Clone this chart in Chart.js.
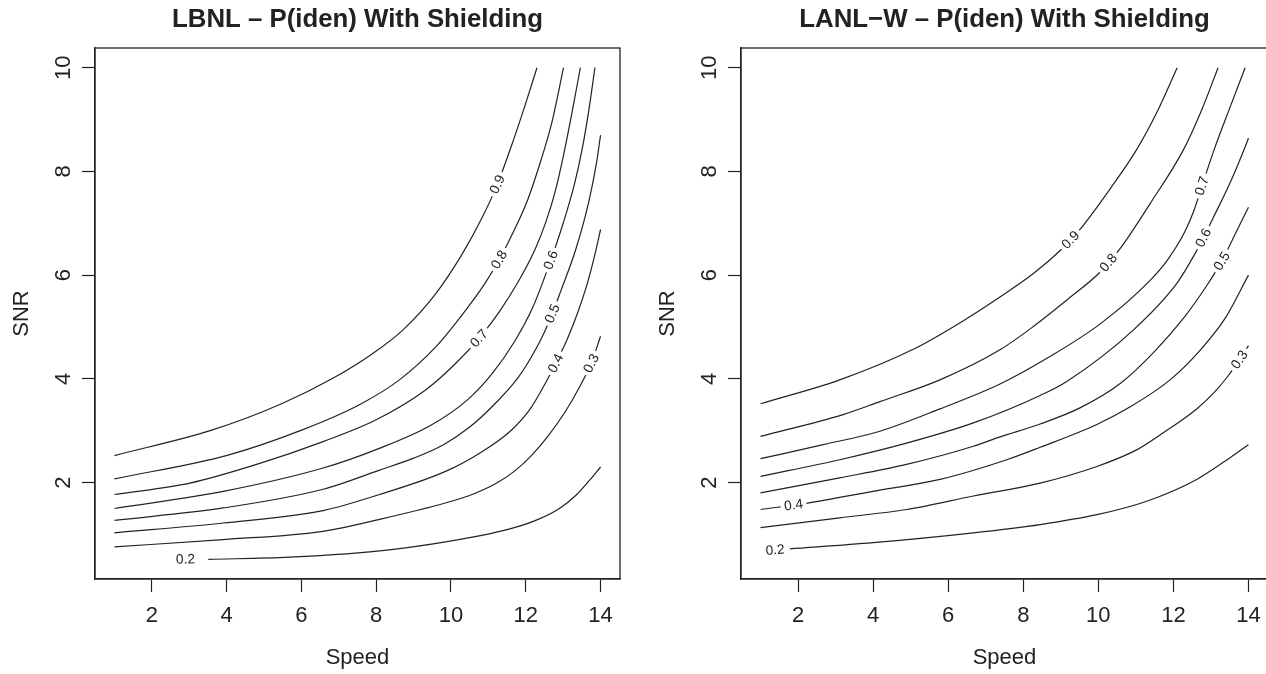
<!DOCTYPE html>
<html><head><meta charset="utf-8">
<script src="https://cdn.jsdelivr.net/npm/chart.js@4.4.1/dist/chart.umd.min.js"></script>
<style>
html,body{margin:0;padding:0;background:#fff;overflow:hidden;}
#wrap{position:relative;width:1266px;height:674px;overflow:hidden;background:#fff;}
.box{position:absolute;top:0;height:674px;}
</style></head><body>
<div id="wrap">
  <div class="box" style="left:0;width:633px"><canvas id="c1" width="633" height="674"></canvas></div>
  <div class="box" style="left:646px;width:626px"><canvas id="c2" width="626" height="674"></canvas></div>
</div>
<script>
// ---------- data ----------
const LEVELS = ['0.2','0.3','0.4','0.5','0.6','0.7','0.8','0.9'];
const SPEED_TICKS = [2,4,6,8,10,12,14];
const SNR_TICKS = [2,4,6,8,10];
const SPEED_RANGE = [0.48, 14.52];
const SNR_RANGE = [0.14, 10.38];

// LBNL contours: [speed, SNR]
const LBNL_20 = [[3.51,0.52],[5.69,0.56],[8.35,0.70],[10.75,0.97],[11.6,1.11],[12.3,1.28],[12.9,1.5],[13.35,1.76],[13.7,2.04],[14,2.3]];
const LBNL_30 = [[1,0.76],[3.91,0.9],[6.58,1.06],[8.09,1.29],[9.87,1.61],[10.6,1.78],[11.2,1.98],[11.7,2.22],[12.15,2.52],[12.6,2.9],[13.05,3.36],[13.42,3.82],[13.75,4.3],[14,4.82]];
const LBNL_40 = [[1,1.03],[3.91,1.22],[6.58,1.46],[8.09,1.77],[9.87,2.22],[10.84,2.6],[11.6,3.0],[12.1,3.4],[12.55,3.95],[12.8,4.3],[13.1,4.75],[13.4,5.3],[13.65,5.85],[13.85,6.4],[14,6.88]];
const LBNL_50 = [[1,1.27],[3.91,1.51],[6.58,1.87],[8.09,2.24],[9.0,2.47],[9.8,2.73],[10.5,3.07],[11.15,3.5],[11.78,4.01],[12.05,4.3],[12.44,4.81],[12.71,5.26],[12.95,5.72],[13.33,6.48],[13.68,7.4],[13.9,8.2],[14,8.7]];
const LBNL_60 = [[1,1.5],[3.91,1.83],[6.58,2.28],[8.05,2.65],[9.45,3.1],[10.45,3.6],[11.1,4.1],[11.7,4.72],[12.2,5.4],[12.67,6.29],[13.0,7.0],[13.3,7.75],[13.5,8.4],[13.68,9.15],[13.85,10]];
const LBNL_70 = [[1,1.77],[3.02,1.99],[4.8,2.35],[6.58,2.79],[8.0,3.21],[9.33,3.79],[10.13,4.3],[10.75,4.78],[11.3,5.3],[11.82,5.9],[12.25,6.5],[12.55,7.05],[12.8,7.65],[13.02,8.35],[13.24,9.15],[13.46,10]];
const LBNL_80 = [[1,2.07],[4.04,2.53],[6.04,3.02],[7.55,3.5],[8.62,3.98],[9.6,4.62],[10.4,5.33],[10.9,5.83],[11.29,6.3],[11.7,6.88],[12.05,7.45],[12.4,8.2],[12.7,8.95],[13.01,10]];
const LBNL_90 = [[1,2.52],[3.6,3.01],[5.47,3.52],[6.84,4.01],[7.91,4.49],[8.71,4.94],[9.6,5.65],[10.31,6.42],[10.84,7.12],[11.24,7.75],[11.62,8.5],[11.97,9.25],[12.3,10]];
const LBNL_LABEL_AT = [[2.9,0.52],[13.75,4.3],[12.8,4.3],[12.71,5.26],[12.67,6.29],[10.75,4.78],[11.29,6.3],[11.24,7.75]];

// LANL-W contours: [speed, SNR]
const LANL_20 = [[1.78,0.72],[4.0,0.84],[6.67,1.03],[8.45,1.19],[9.96,1.38],[11.29,1.64],[12.62,2.06],[13.51,2.48],[14,2.73]];
const LANL_30 = [[1,1.13],[3.11,1.32],[4.89,1.48],[6.67,1.74],[8.45,1.99],[9.96,2.31],[11.02,2.63],[11.73,2.96],[12.62,3.42],[13.1,3.75],[13.45,4.05],[13.76,4.37],[14,4.64]];
const LANL_40 = [[1,1.48],[2.22,1.6],[4.0,1.83],[5.78,2.06],[7.56,2.44],[8.45,2.68],[9.96,3.12],[10.85,3.46],[11.91,3.98],[12.71,4.55],[13.38,5.17],[14,6.0]];
const LANL_50 = [[1,1.8],[3.11,2.09],[4.89,2.35],[6.67,2.7],[7.38,2.88],[8.45,3.13],[9.51,3.44],[10.6,3.92],[11.5,4.53],[12.27,5.17],[12.89,5.8],[13.29,6.27],[13.65,6.8],[14,7.31]];
const LANL_60 = [[1,2.12],[3.11,2.44],[4.89,2.76],[6.67,3.15],[8.45,3.68],[9.16,3.95],[10.93,4.94],[12.09,5.84],[12.58,6.42],[12.8,6.72],[13.07,7.12],[13.51,7.78],[13.87,8.4],[14,8.64]];
const LANL_70 = [[1,2.46],[2.67,2.73],[4.18,2.99],[5.78,3.42],[7.38,3.9],[8.71,4.43],[10.05,5.06],[11.38,5.9],[11.85,6.3],[12.3,6.83],[12.55,7.25],[12.76,7.72],[13.1,8.45],[13.5,9.22],[13.91,10]];
const LANL_80 = [[1,2.89],[3.2,3.31],[4.18,3.56],[5.78,3.98],[7.38,4.56],[8.27,5.01],[9.16,5.52],[10.05,6.06],[10.6,6.53],[11.38,7.38],[12.27,8.42],[12.75,9.18],[13.19,10]];
const LANL_90 = [[1,3.52],[3.11,3.98],[5.07,4.57],[6.22,5.04],[7.38,5.58],[8.27,6.03],[9.02,6.5],[9.26,6.68],[9.51,6.88],[10.31,7.66],[11.02,8.42],[11.6,9.2],[12.1,10]];
const LANL_LABEL_AT = [[1.39,0.70],[13.76,4.37],[1.88,1.567],[13.29,6.27],[12.8,6.72],[12.76,7.72],[10.27,6.24],[9.26,6.68]];

// ---------- styling ----------
const FONT = '"Liberation Sans", Arial, Helvetica, sans-serif';
const TXT = '#222';
const INK = '#222';

const contourPlugin = {
  id: 'contourDecor',
  afterDatasetsDraw(chart) {
    const ctx = chart.ctx, xs = chart.scales.x, ys = chart.scales.y;
    ctx.save();
    ctx.font = '13.7px ' + FONT;
    chart.data.datasets.forEach(ds => {
      const lab = ds.contourLabel; if (!lab) return;
      const px = xs.getPixelForValue(lab.at[0]), py = ys.getPixelForValue(lab.at[1]);
      let bd = Infinity, ang = 0;
      for (let k = 0; k < ds.data.length - 1; k++) {
        const ax = xs.getPixelForValue(ds.data[k].x), ay = ys.getPixelForValue(ds.data[k].y);
        const bx = xs.getPixelForValue(ds.data[k+1].x), by = ys.getPixelForValue(ds.data[k+1].y);
        const dx = bx - ax, dy = by - ay, L2 = dx*dx + dy*dy || 1;
        let t = ((px-ax)*dx + (py-ay)*dy) / L2; t = Math.max(0, Math.min(1, t));
        const cx = ax + t*dx, cy = ay + t*dy, d = Math.hypot(px-cx, py-cy);
        if (d < bd) { bd = d; ang = Math.atan2(dy, dx); }
      }
      const w = ctx.measureText(lab.text).width;
      ctx.save();
      ctx.translate(px, py); ctx.rotate(ang);
      ctx.fillStyle = '#fff';
      ctx.fillRect(-w/2 - 3.5, -5.5, w + 7, 11);
      ctx.fillStyle = TXT; ctx.textAlign = 'center'; ctx.textBaseline = 'middle';
      ctx.fillText(lab.text, 0, 0.5);
      ctx.restore();
    });
    ctx.restore();
  },
  afterDraw(chart, args, opts) {
    const ctx = chart.ctx, ca = chart.chartArea;
    ctx.save();
    ctx.strokeStyle = INK; ctx.lineWidth = 1.3;
    ctx.strokeRect(ca.left, ca.top, ca.right - ca.left, ca.bottom - ca.top);
    ctx.fillStyle = TXT;
    ctx.font = 'bold 25.8px ' + FONT;
    ctx.textAlign = 'center'; ctx.textBaseline = 'middle';
    ctx.fillText(opts.title, (ca.left + ca.right) / 2, 20);
    ctx.restore();
  }
};

function makeChart(id, title, contours, labelAt, padRight) {
  const datasets = LEVELS.map((lv, i) => ({
    label: lv,
    data: contours[i].map(p => ({x: p[0], y: p[1]})),
    showLine: true, borderColor: INK, borderWidth: 1.2,
    pointRadius: 0, pointHoverRadius: 0, fill: false,
    cubicInterpolationMode: 'monotone',
    contourLabel: {text: lv, at: labelAt[i]}
  }));
  const tickFont = {family: FONT, size: 22, lineHeight: 1.2};
  return new Chart(document.getElementById(id), {
    type: 'scatter',
    data: {datasets},
    plugins: [contourPlugin],
    options: {
      responsive: false, animation: false, devicePixelRatio: 1,
      layout: {padding: {top: 48, left: 0, right: padRight, bottom: 0}},
      plugins: {legend: {display: false}, tooltip: {enabled: false}, title: {display: false},
                contourDecor: {title}},
      scales: {
        x: {
          type: 'linear', position: 'bottom', min: SPEED_RANGE[0], max: SPEED_RANGE[1],
          afterBuildTicks: s => { s.ticks = SPEED_TICKS.map(v => ({value: v})); },
          afterFit: s => { s.height = 95; },
          ticks: {font: tickFont, color: TXT, padding: 11, maxRotation: 0, autoSkip: false, callback: v => String(v)},
          grid: {display: true, drawOnChartArea: false, drawTicks: true, tickLength: 13, tickColor: INK, tickWidth: 1.2, color: INK},
          border: {display: true, color: INK, width: 1.3},
          title: {display: true, text: 'Speed', font: tickFont, color: TXT, padding: {top: 0, bottom: 3}}
        },
        y: {
          type: 'linear', position: 'left', min: SNR_RANGE[0], max: SNR_RANGE[1],
          afterBuildTicks: s => { s.ticks = SNR_TICKS.map(v => ({value: v})); },
          afterFit: s => { s.width = 95; },
          ticks: {font: tickFont, color: TXT, padding: 6, minRotation: 90, maxRotation: 90, crossAlign: 'center', autoSkip: false, callback: v => String(v)},
          grid: {display: true, drawOnChartArea: false, drawTicks: true, tickLength: 13, tickColor: INK, tickWidth: 1.2, color: INK},
          border: {display: true, color: INK, width: 1.3},
          title: {display: true, text: 'SNR', font: tickFont, color: TXT, padding: {top: 9, bottom: 0}}
        }
      }
    }
  });
}

makeChart('c1', 'LBNL \u2013 P(iden) With Shielding',
  [LBNL_20, LBNL_30, LBNL_40, LBNL_50, LBNL_60, LBNL_70, LBNL_80, LBNL_90], LBNL_LABEL_AT, 13);
makeChart('c2', 'LANL\u2212W \u2013 P(iden) With Shielding',
  [LANL_20, LANL_30, LANL_40, LANL_50, LANL_60, LANL_70, LANL_80, LANL_90], LANL_LABEL_AT, 4);
</script>
</body></html>
